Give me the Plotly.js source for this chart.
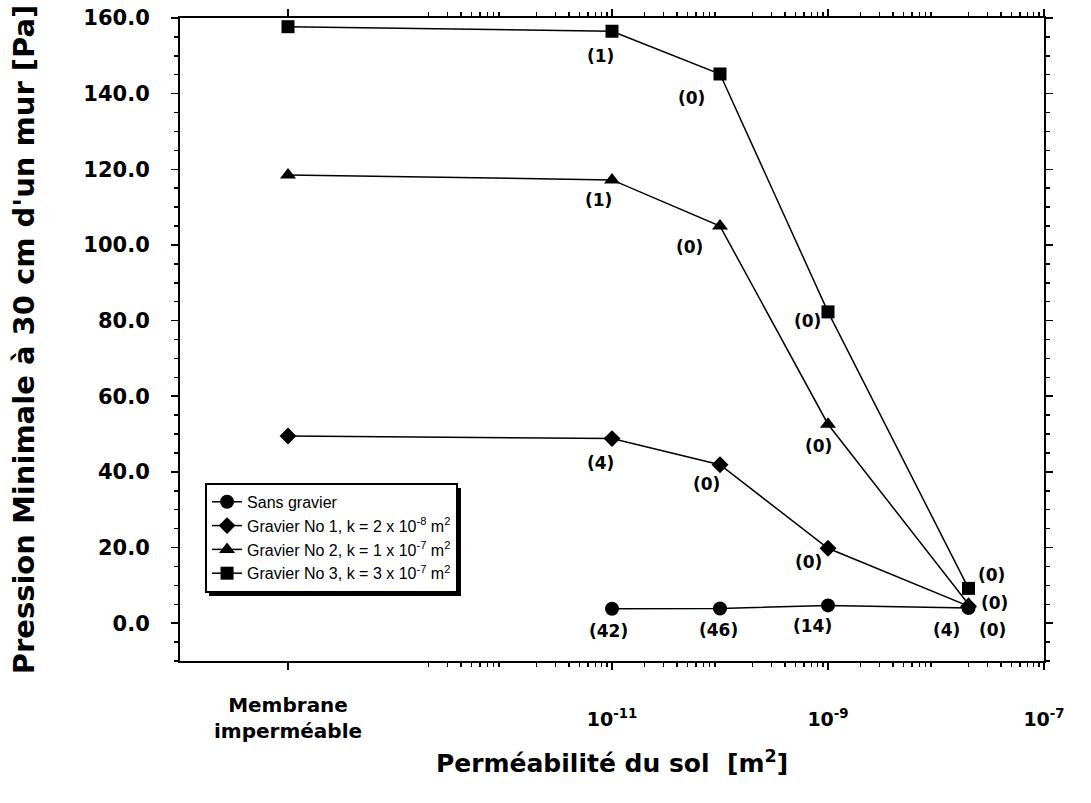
<!DOCTYPE html>
<html>
<head>
<meta charset="utf-8">
<script src="https://cdn.plot.ly/plotly-3.0.1.min.js"></script>
<style>
html,body{margin:0;padding:0;background:#fff;}
#chart{width:1091px;height:803px;}
</style>
</head>
<body>
<div id="chart"></div>
<script>
// x positions: "Membrane imperméable" is drawn at 1e-14 on the log axis
const permeability = [1e-14, 1e-11, 1e-10, 1e-9, 2e-8];
const seriesNames = [
  "Sans gravier",
  "Gravier No 1, k = 2 x 10<sup>-8</sup> m<sup>2</sup>",
  "Gravier No 2, k = 1 x 10<sup>-7</sup> m<sup>2</sup>",
  "Gravier No 3, k = 3 x 10<sup>-7</sup> m<sup>2</sup>"
];
const sansGravier = [null, 3.8, 3.9, 4.7, 4.0];
const gravier1 = [49.5, 48.8, 41.9, 19.8, 4.5];
const gravier2 = [118.5, 117.2, 105.0, 52.6, 5.0];
const gravier3 = [157.7, 156.5, 145.2, 82.3, 9.2];

const labelsSans = [null, "(42)", "(46)", "(14)", "(4)"];
const labels1 = [null, "(4)", "(0)", "(0)", "(0)"];
const labels2 = [null, "(1)", "(0)", "(0)", "(0)"];
const labels3 = [null, "(1)", "(0)", "(0)", "(0)"];

const membraneLabel = "Membrane<br>imperméable";
const xTickVals = [1e-14, 1e-11, 1e-9, 1e-7];
const xTickText = ["", "10<sup>-11</sup>", "10<sup>-9</sup>", "10<sup>-7</sup>"];

// label offsets (pixels) relative to each point
const offSans = [null, [-4,-22], [-2,-22], [-16,-21], [-22,-22]];
const off1 = [null, [-12,-24], [-14,-19], [-20,-14], [24,-24]];
const off2 = [null, [-14,-20], [-31,-21], [-10,-22], [26,1]];
const off3 = [null, [-12,-25], [-29,-24], [-21,-9], [23,13]];

const series = [sansGravier, gravier1, gravier2, gravier3];
const symbols = ["circle", "diamond", "triangle-up", "square"];
const sizes = [14, 13, 14, 13];
const labelSets = [labelsSans, labels1, labels2, labels3];
const offsets = [offSans, off1, off2, off3];

const traces = series.map((vals, i) => ({
  x: permeability,
  y: vals,
  name: seriesNames[i],
  type: "scatter",
  mode: "lines+markers",
  line: {color: "#000", width: 1.5},
  marker: {symbol: symbols[i], size: sizes[i], color: "#000"},
  connectgaps: false
}));

const labelFont = {family: "DejaVu Sans, sans-serif", size: 17, weight: "bold", color: "#000"};
const annotations = [];
labelSets.forEach((labs, i) => {
  labs.forEach((t, j) => {
    if (t === null || series[i][j] === null) return;
    annotations.push({
      x: Math.log10(permeability[j]), y: series[i][j],
      xref: "x", yref: "y",
      text: t, showarrow: false,
      xshift: offsets[i][j][0], yshift: offsets[i][j][1],
      font: labelFont
    });
  });
});
annotations.push({
  x: Math.log10(permeability[0]), y: 0, xref: "x", yref: "paper",
  yanchor: "middle", yshift: -57,
  text: membraneLabel, showarrow: false,
  font: {family: "DejaVu Sans, sans-serif", size: 20, weight: "bold", color: "#000"}
});

// minor log ticks from 1e-13 to 1e-7
const minorVals = [];
for (let e = -13; e < -7; e++) {
  for (let m = 2; m <= 9; m++) minorVals.push(m * Math.pow(10, e));
}

const layout = {
  width: 1091, height: 803,
  margin: {l: 180, r: 47, t: 18, b: 142},
  paper_bgcolor: "#fff", plot_bgcolor: "#fff",
  font: {family: "Liberation Sans, Arial, sans-serif", color: "#000"},
  showlegend: true,
  legend: {
    x: 0.029, y: 0.277, xanchor: "left", yanchor: "top",
    bgcolor: "#fff", bordercolor: "#000", borderwidth: 2,
    font: {family: "Liberation Sans, Arial, sans-serif", size: 16, color: "#000"},
    itemwidth: 30, tracegroupgap: 0
  },
  shapes: [{
    type: "rect", xref: "paper", yref: "paper",
    x0: 0.0336, x1: 0.3252, y0: 0.1011, y1: 0.269,
    fillcolor: "#000", line: {width: 0}, layer: "above"
  }],
  xaxis: {
    type: "log", range: [-15, -7],
    tickmode: "array", tickvals: xTickVals, ticktext: xTickText,
    ticks: "outside", ticklen: 7, tickwidth: 1.5, tickcolor: "#000",
    ticklabelstandoff: 33,
    showline: true, linecolor: "#000", linewidth: 2, mirror: "ticks",
    showgrid: false, zeroline: false,
    tickfont: {family: "DejaVu Sans, sans-serif", size: 19, weight: "bold"},
    minor: {tickmode: "array", tickvals: minorVals, ticks: "outside", ticklen: 4, tickcolor: "#000", showgrid: false},
    title: {text: "Perméabilité du sol  [m<sup>2</sup>]", standoff: 26,
            font: {family: "DejaVu Sans, sans-serif", size: 25, weight: "bold"}}
  },
  yaxis: {
    range: [-10, 160], tickmode: "linear", tick0: 0, dtick: 20,
    tickformat: ".1f",
    ticks: "outside", ticklen: 7, tickwidth: 1.5, tickcolor: "#000",
    ticklabelstandoff: 17,
    showline: true, linecolor: "#000", linewidth: 2, mirror: "ticks",
    showgrid: false, zeroline: false,
    tickfont: {family: "DejaVu Sans, sans-serif", size: 21, weight: "bold"},
    minor: {dtick: 5, ticks: "outside", ticklen: 4, tickcolor: "#000", showgrid: false},
    title: {text: "Pression Minimale à 30 cm d'un mur [Pa]", standoff: 40,
            font: {family: "DejaVu Sans, sans-serif", size: 29, weight: "bold"}}
  },
  annotations: annotations
};

Plotly.newPlot("chart", traces, layout, {displayModeBar: false, staticPlot: true});
</script>
</body>
</html>
